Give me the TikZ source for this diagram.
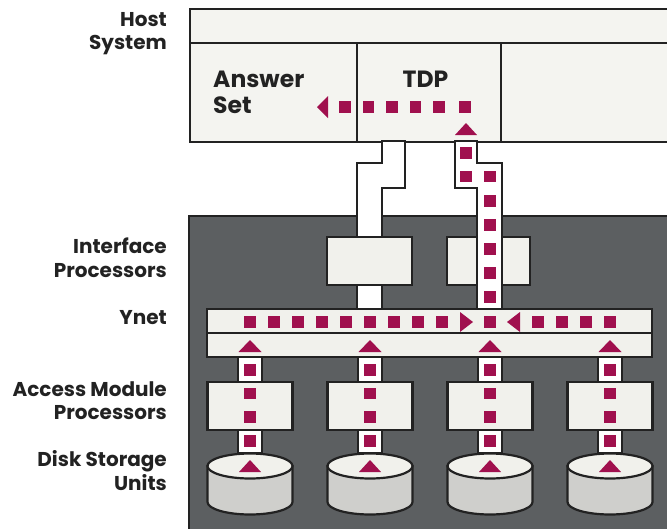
\documentclass[tikz,border=0pt]{standalone}
\usepackage{fontspec}
\setmainfont{Poppins}
\definecolor{mag}{HTML}{A0104E}
\definecolor{panel}{HTML}{5C5F61}
\definecolor{boxfill}{HTML}{F1F1EC}
\definecolor{hostfill}{HTML}{F4F4F0}
\definecolor{diskbody}{HTML}{CFCFCC}
\definecolor{ink}{HTML}{222222}
\begin{document}
\begin{tikzpicture}[x=1pt,y=-1pt,line join=miter,
  lbl/.style={anchor=base east,font=\bfseries\fontsize{20}{24}\selectfont,text=ink,inner sep=0},
  big/.style={font=\bfseries\fontsize{23.5}{28}\selectfont,text=ink,inner sep=0},
  bx/.style={draw=ink,line width=2.2pt,fill=boxfill,inner sep=0},
  pipe/.style={draw=ink,line width=2.2pt,fill=white},
  sq/.style={fill=mag},
  tri/.style={fill=mag}]
\useasboundingbox (0,0) rectangle (667,528);
\clip (0,0) rectangle (667,528);
% labels
\node[lbl] (lHost) at (167,26) {Host};
\node[lbl] (lSys) at (167,49) {System};
\node[lbl] (lIf) at (167,253) {Interface};
\node[lbl] (lIfP) at (167,277) {Processors};
\node[lbl] (lY) at (167,324) {Ynet};
\node[lbl] (lAm) at (167,396) {Access Module};
\node[lbl] (lAmP) at (167,419) {Processors};
\node[lbl] (lDs) at (167,466) {Disk Storage};
\node[lbl] (lDu) at (167,490) {Units};
% panel
\filldraw[fill=panel,draw=ink,line width=1.5pt] (189,216) rectangle (690,540);
% host
\node[bx,fill=hostfill,minimum width=520,minimum height=133,anchor=north west] (host) at (189,8) {};
\draw[ink,line width=2.2pt] (189,43) -- (690,43);
\draw[ink,line width=2.2pt] (357,43) -- (357,141);
\draw[ink,line width=2.2pt] (501,43) -- (501,141);
\node[big,anchor=base west] (ans1) at (213,87) {Answer};
\node[big,anchor=base west] (ans2) at (213,113) {Set};
\node[big,anchor=base] (tdp) at (425.5,87) {TDP};
% left pipe
\filldraw[pipe] (382,141) -- (405,141) -- (405,188) -- (382,188) -- (382,237) -- (357,237) -- (357,163) -- (382,163) -- cycle;
\filldraw[pipe] (357,285) rectangle (382,309);
% IP boxes
\node[bx,minimum width=85,minimum height=48] (ip1) at (369.5,261) {};
\node[bx,minimum width=83,minimum height=48] (ip2) at (488.5,261) {};
% right pipe
\filldraw[pipe] (455,141) -- (477,141) -- (477,163) -- (502,163) -- (502,309) -- (477,309) -- (477,188) -- (455,188) -- cycle;
% Ynet
\node[bx,minimum width=445,minimum height=48] (ynet) at (429.5,333) {};
\draw[ink,line width=2.2pt] (ynet.west) -- (ynet.east);
% columns
\foreach \c [count=\i] in {250,370,490,610}{
  \filldraw[pipe] (\c-12,357) rectangle (\c+12,382);
  \filldraw[pipe] (\c-12,430) rectangle (\c+12,453);
  \node[bx,minimum width=85,minimum height=48] (amp\i) at (\c,406) {};
  \filldraw[pipe,fill=diskbody] (\c-42.5,466) -- (\c-42.5,502) arc[start angle=180,end angle=0,x radius=42.5,y radius=12.5] -- (\c+42.5,466) -- cycle;
  \filldraw[pipe,fill=boxfill] (\c,466) ellipse [x radius=42.5,y radius=12.5];
  \fill[tri] (\c-11,472) -- (\c+11,472) -- (\c,460) -- cycle;
  \fill[tri] (\c-11.5,352) -- (\c+11.5,352) -- (\c,340) -- cycle;
  \foreach \y in {370,393.5,417,441} \fill[sq] (\c-5.75,\y-5.75) rectangle (\c+5.75,\y+5.75);
}
% Ynet top row
\foreach \x in {250,274,298,322,346,370,394,418,442,490,538,562,586,610}
  \fill[sq] (\x-5.75,316.25) rectangle (\x+5.75,327.75);
\fill[tri] (460,312) -- (473,322) -- (460,332) -- cycle;
\fill[tri] (520,312) -- (507,322) -- (520,332) -- cycle;
% right pipe squares
\foreach \x/\y in {466/153,466/176.5,490/176.5,490/201,490/225,490/249,490/273,490/297}
  \fill[sq] (\x-5.75,\y-5.75) rectangle (\x+5.75,\y+5.75);
% TDP arrow
\fill[tri] (455,135) -- (477,135) -- (466,123) -- cycle;
\foreach \x in {345,368.5,392,415.5,439,465}
  \fill[sq] (\x-5.75,101.25) rectangle (\x+5.75,112.75);
\fill[tri] (328,96) -- (317,107) -- (328,118) -- cycle;
\end{tikzpicture}
\end{document}
